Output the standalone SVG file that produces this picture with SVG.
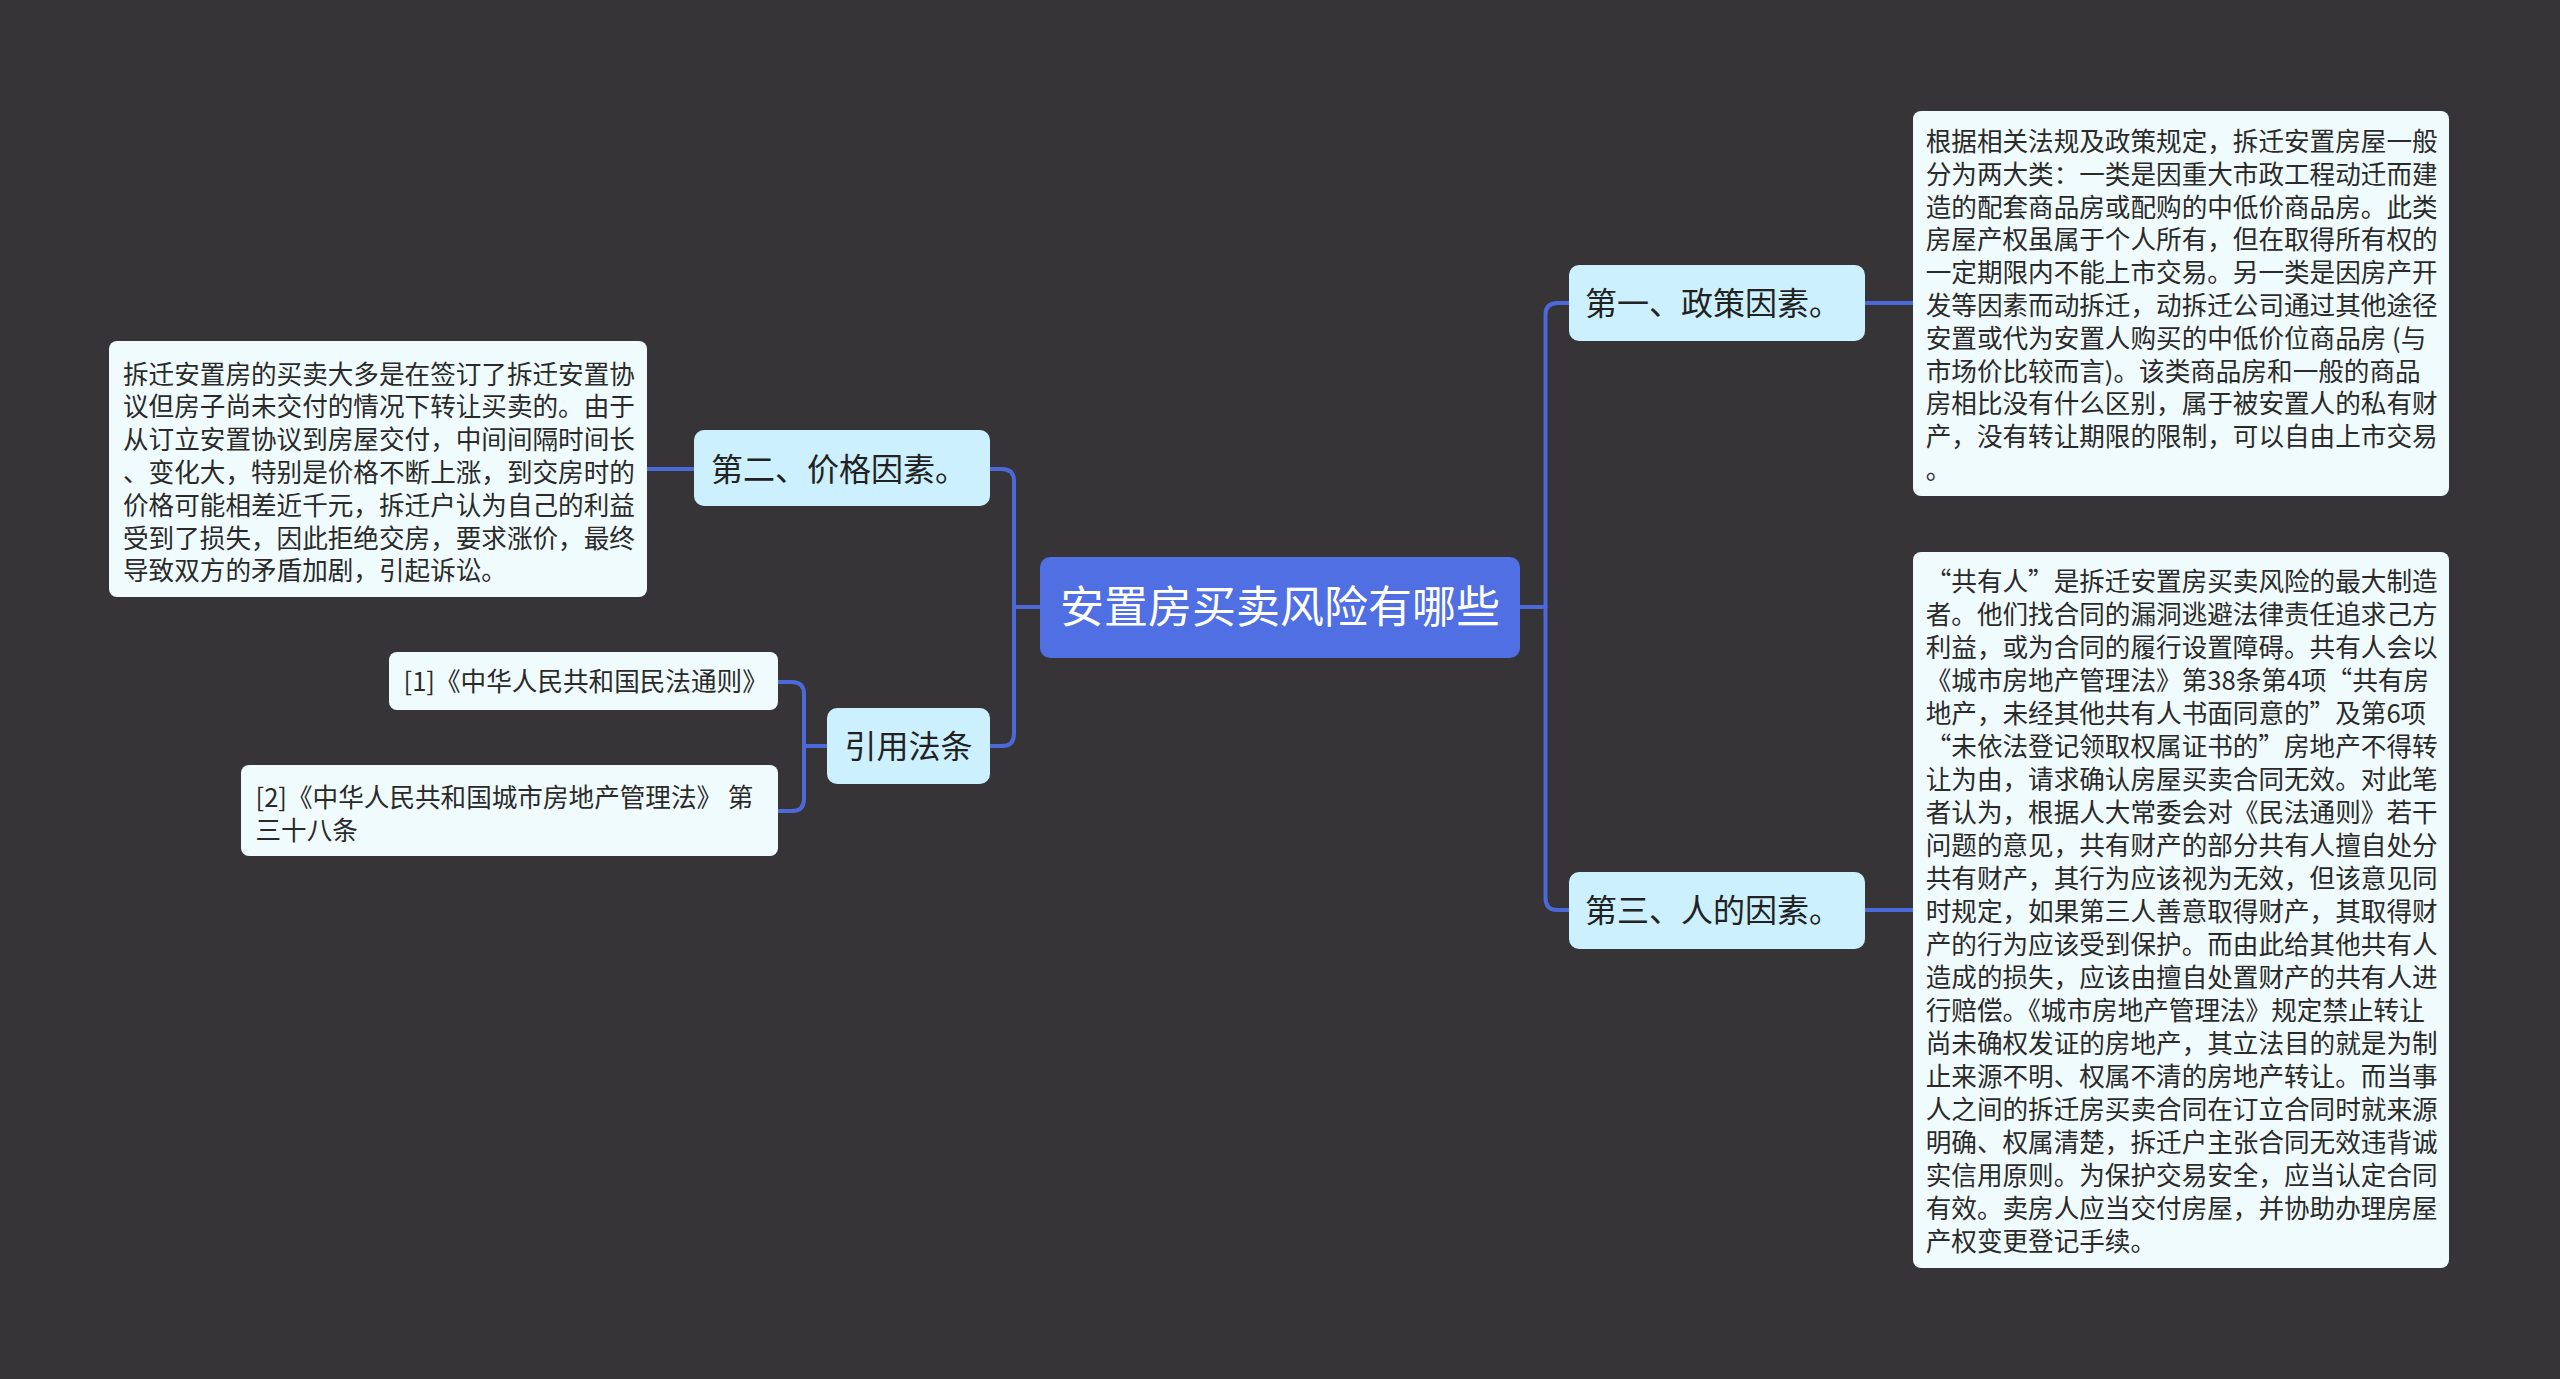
<svg xmlns="http://www.w3.org/2000/svg" width="2560" height="1379" viewBox="0 0 2560 1379">
<style>
text{font-family:"Noto Sans CJK SC","Noto Sans",sans-serif;}
.conn{fill:none;stroke:#4b69d9;stroke-width:4;stroke-linecap:round;}
.root rect{fill:#4f6fe3;}
.root text{fill:#ffffff;font-size:44px;}
.l1 rect{fill:#ccf0fd;}
.l1 text{fill:#222222;font-size:32px;}
.leaf rect{fill:#f0fbfd;}
.leaf text{fill:#2a2a2a;font-size:25.6px;}
</style>
<rect x="0" y="0" width="2560" height="1379" fill="#363436"/>
<g id="connectors">
<path class="conn" d="M1520,607 H1545.5"/>
<path class="conn" d="M1569,303 H1557.5 Q1545.5,303 1545.5,315 V898 Q1545.5,910 1557.5,910 H1569"/>
<path class="conn" d="M1040,607 H1014"/>
<path class="conn" d="M990,469 H1002 Q1014,469 1014,481 V734 Q1014,746 1002,746 H990"/>
<path class="conn" d="M827,746 H804"/>
<path class="conn" d="M778,682 H792 Q804,682 804,694 V799 Q804,811 792,811 H778"/>
<path class="conn" d="M1865,303 H1913"/>
<path class="conn" d="M1865,910 H1913"/>
<path class="conn" d="M694,469 H647"/>
</g>
<g id="root" class="root">
<rect x="1040" y="557" width="480" height="101" rx="10"/>
<text x="1280" y="623" text-anchor="middle">安置房买卖风险有哪些</text>
</g>
<g id="n1" class="l1">
<rect x="1569" y="265" width="296" height="76" rx="10"/>
<text x="1585" y="314.5">第一、政策因素。</text>
</g>
<g id="n3" class="l1">
<rect x="1569" y="872" width="296" height="77" rx="10"/>
<text x="1585" y="921.5">第三、人的因素。</text>
</g>
<g id="n2" class="l1">
<rect x="694" y="430" width="296" height="76" rx="10"/>
<text x="711" y="480.5">第二、价格因素。</text>
</g>
<g id="n4" class="l1">
<rect x="827" y="708" width="163" height="76" rx="10"/>
<text x="908.5" y="757.5" text-anchor="middle">引用法条</text>
</g>
<g id="leaf1" class="leaf">
<rect x="1913" y="111" width="536" height="385" rx="8"/>
<text x="1925.7">
<tspan x="1925.7" y="151">根据相关法规及政策规定，拆迁安置房屋一般</tspan>
<tspan x="1925.7" y="183.8">分为两大类：一类是因重大市政工程动迁而建</tspan>
<tspan x="1925.7" y="216.6">造的配套商品房或配购的中低价商品房。此类</tspan>
<tspan x="1925.7" y="249.4">房屋产权虽属于个人所有，但在取得所有权的</tspan>
<tspan x="1925.7" y="282.2">一定期限内不能上市交易。另一类是因房产开</tspan>
<tspan x="1925.7" y="315">发等因素而动拆迁，动拆迁公司通过其他途径</tspan>
<tspan x="1925.7" y="347.8">安置或代为安置人购买的中低价位商品房 (与</tspan>
<tspan x="1925.7" y="380.6">市场价比较而言)。该类商品房和一般的商品</tspan>
<tspan x="1925.7" y="413.4">房相比没有什么区别，属于被安置人的私有财</tspan>
<tspan x="1925.7" y="446.2">产，没有转让期限的限制，可以自由上市交易</tspan>
<tspan x="1925.7" y="479">。</tspan>
</text>
</g>
<g id="leaf3" class="leaf">
<rect x="1913" y="552" width="536" height="716" rx="8"/>
<text x="1925.7">
<tspan x="1925.7" y="591">“共有人”是拆迁安置房买卖风险的最大制造</tspan>
<tspan x="1925.7" y="624">者。他们找合同的漏洞逃避法律责任追求己方</tspan>
<tspan x="1925.7" y="657">利益，或为合同的履行设置障碍。共有人会以</tspan>
<tspan x="1925.7" y="690">《城市房地产管理法》第38条第4项“共有房</tspan>
<tspan x="1925.7" y="723">地产，未经其他共有人书面同意的”及第6项</tspan>
<tspan x="1925.7" y="756">“未依法登记领取权属证书的”房地产不得转</tspan>
<tspan x="1925.7" y="789">让为由，请求确认房屋买卖合同无效。对此笔</tspan>
<tspan x="1925.7" y="822">者认为，根据人大常委会对《民法通则》若干</tspan>
<tspan x="1925.7" y="855">问题的意见，共有财产的部分共有人擅自处分</tspan>
<tspan x="1925.7" y="888">共有财产，其行为应该视为无效，但该意见同</tspan>
<tspan x="1925.7" y="921">时规定，如果第三人善意取得财产，其取得财</tspan>
<tspan x="1925.7" y="954">产的行为应该受到保护。而由此给其他共有人</tspan>
<tspan x="1925.7" y="987">造成的损失，应该由擅自处置财产的共有人进</tspan>
<tspan x="1925.7" y="1020">行赔偿。《城市房地产管理法》规定禁止转让</tspan>
<tspan x="1925.7" y="1053">尚未确权发证的房地产，其立法目的就是为制</tspan>
<tspan x="1925.7" y="1086">止来源不明、权属不清的房地产转让。而当事</tspan>
<tspan x="1925.7" y="1119">人之间的拆迁房买卖合同在订立合同时就来源</tspan>
<tspan x="1925.7" y="1152">明确、权属清楚，拆迁户主张合同无效违背诚</tspan>
<tspan x="1925.7" y="1185">实信用原则。为保护交易安全，应当认定合同</tspan>
<tspan x="1925.7" y="1218">有效。卖房人应当交付房屋，并协助办理房屋</tspan>
<tspan x="1925.7" y="1251">产权变更登记手续。</tspan>
</text>
</g>
<g id="leaf2" class="leaf">
<rect x="109" y="341" width="538" height="256" rx="8"/>
<text x="123">
<tspan x="123" y="383.5">拆迁安置房的买卖大多是在签订了拆迁安置协</tspan>
<tspan x="123" y="416.3">议但房子尚未交付的情况下转让买卖的。由于</tspan>
<tspan x="123" y="449.1">从订立安置协议到房屋交付，中间间隔时间长</tspan>
<tspan x="123" y="481.9">、变化大，特别是价格不断上涨，到交房时的</tspan>
<tspan x="123" y="514.7">价格可能相差近千元，拆迁户认为自己的利益</tspan>
<tspan x="123" y="547.5">受到了损失，因此拒绝交房，要求涨价，最终</tspan>
<tspan x="123" y="580.3">导致双方的矛盾加剧，引起诉讼。</tspan>
</text>
</g>
<g id="ref1" class="leaf">
<rect x="389" y="652" width="389" height="58" rx="8"/>
<text x="403.5" y="690.5">[1]《中华人民共和国民法通则》</text>
</g>
<g id="ref2" class="leaf">
<rect x="241" y="765" width="537" height="91" rx="8"/>
<text x="255.5">
<tspan x="255.5" y="807">[2]《中华人民共和国城市房地产管理法》 第</tspan>
<tspan x="255.5" y="840">三十八条</tspan>
</text>
</g>
</svg>
